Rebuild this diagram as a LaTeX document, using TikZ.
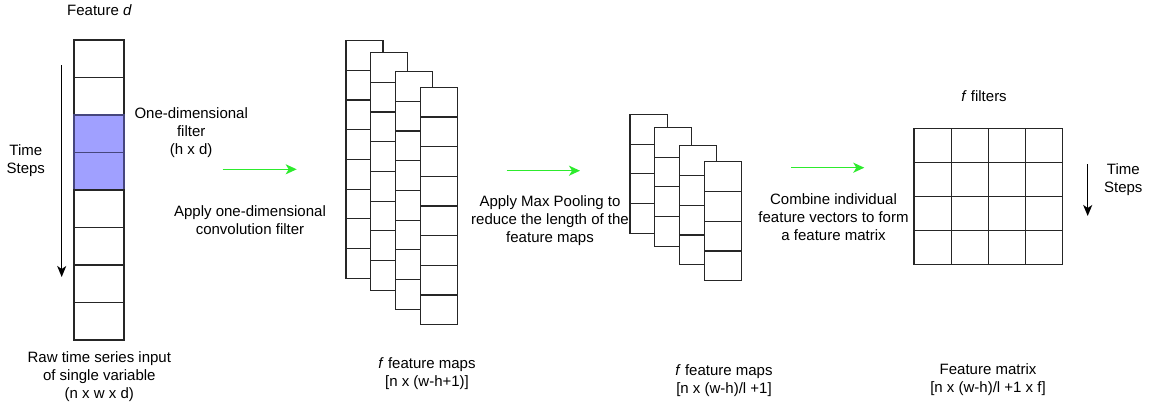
\documentclass[tikz,border=0pt]{standalone}
\usepackage{fontspec}
\setmainfont{Liberation Sans}
\usetikzlibrary{arrows.meta}
\definecolor{filterblue}{RGB}{160,160,255}
\definecolor{filterline}{RGB}{70,70,125}
\definecolor{flowgreen}{RGB}{45,235,45}
\begin{document}
\begin{tikzpicture}[x=1pt,y=-1pt,
  cell/.style={draw=black!85, line width=1.1pt, fill=white, inner sep=0pt, outer sep=0pt, anchor=north west},
  incell/.style={cell, minimum width=50pt, minimum height=37.5pt},
  mapcell/.style={cell, minimum width=37pt, minimum height=29.67pt},
  poolcell/.style={cell, minimum width=37.4pt, minimum height=29.75pt},
  matcell/.style={cell, minimum width=37.17pt, minimum height=34pt},
  lbl/.style={font=\fontsize{15}{18}\selectfont, align=center, inner sep=0pt},
  timearrow/.style={draw=black, line width=1.4pt, -{Stealth[length=11pt,width=9pt,inset=3pt]}},
  flowarrow/.style={draw=flowgreen, line width=1.5pt, -{Stealth[length=11pt,width=10pt,inset=3pt]}}]
\useasboundingbox (0,0) rectangle (1153,402);

% input column
\foreach \i/\f/\d in {1/white/black!85,2/white/black!85,3/filterblue/filterline,4/filterblue/filterline,5/white/black!85,6/white/black!85,7/white/black!85,8/white/black!85}
  \node[incell, fill=\f, draw=\d] (in\i) at (74, {40+37.5*(\i-1)}) {};

% convolution feature maps
\foreach \r/\x/\y in {1/346/40.7, 2/370.7/52.7, 3/395.7/71.7, 4/420.3/87.3}
  \foreach \k in {1,...,8}
    \node[mapcell] (fm\r-\k) at (\x, {\y+29.67*(\k-1)}) {};

% pooled feature maps
\foreach \r/\x/\y in {1/630/114.3, 2/654.3/127.3, 3/679.3/145.7, 4/704.3/161.7}
  \foreach \k in {1,...,4}
    \node[poolcell] (pm\r-\k) at (\x, {\y+29.75*(\k-1)}) {};

% feature matrix
\foreach \r in {1,...,4}
  \foreach \c in {1,...,4}
    \node[matcell] (m\r-\c) at ({914+37.17*(\c-1)}, {128.3+34*(\r-1)}) {};

% arrows
\coordinate (tsLa) at (61.7,65);
\coordinate (tsLb) at (61.7,277);
\draw[timearrow] (tsLa) -- (tsLb);
\coordinate (tsRa) at (1087.7,164);
\coordinate (tsRb) at (1087.7,216);
\draw[timearrow] (tsRa) -- (tsRb);

\coordinate (g1a) at (222.7,169.3);
\coordinate (g1b) at (296.7,169.3);
\draw[flowarrow] (g1a) -- (g1b);
\coordinate (g2a) at (506.7,170.7);
\coordinate (g2b) at (580,170.7);
\draw[flowarrow] (g2a) -- (g2b);
\coordinate (g3a) at (791,167.7);
\coordinate (g3b) at (864.3,167.7);
\draw[flowarrow] (g3a) -- (g3b);

% labels
\node[lbl] (featd) at (99.5,10) {Feature \textit{d}};
\node[lbl] (tsL) at (25.8,160.5) {Time\\Steps};
\node[lbl] (filt) at (191.2,132.5) {One-dimensional\\filter\\(h x d)};
\node[lbl] (conv) at (250,220.4) {Apply one-dimensional\\convolution filter};
\node[lbl] (raw) at (99.3,376.5) {Raw time series input\\of single variable\\(n x w x d)};
\node[lbl] (cap1) at (427,373.5) {\textit{f} feature maps\\{[n x (w-h+1)]}};
\node[lbl] (pool) at (550,220.3) {Apply Max Pooling to\\reduce the length of the\\feature maps};
\node[lbl] (cap2) at (724,381) {\textit{f} feature maps\\{[n x (w-h)/l +1]}};
\node[lbl] (comb) at (833.5,217.2) {Combine individual\\feature vectors to form\\a feature matrix};
\node[lbl] (ffil) at (984,96) {\textit{f} filters};
\node[lbl] (tsR) at (1123.3,179.8) {Time\\Steps};
\node[lbl] (fmat) at (988,379.8) {Feature matrix\\{[n x (w-h)/l +1 x f]}};
\end{tikzpicture}
\end{document}
